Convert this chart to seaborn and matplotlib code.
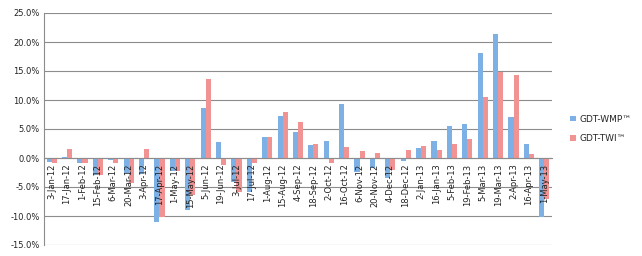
import matplotlib
matplotlib.use("Agg")
import matplotlib.pyplot as plt
import seaborn as sns
import pandas as pd
from matplotlib.ticker import FuncFormatter

dates = ["3-Jan-12", "17-Jan-12", "1-Feb-12", "15-Feb-12", "6-Mar-12", "20-Mar-12",
         "3-Apr-12", "17-Apr-12", "1-May-12", "15-May-12", "5-Jun-12", "19-Jun-12",
         "3-Jul-12", "17-Jul-12", "1-Aug-12", "15-Aug-12", "4-Sep-12", "18-Sep-12",
         "2-Oct-12", "16-Oct-12", "6-Nov-12", "20-Nov-12", "4-Dec-12", "18-Dec-12",
         "2-Jan-13", "16-Jan-13", "5-Feb-13", "19-Feb-13", "5-Mar-13", "19-Mar-13",
         "2-Apr-13", "16-Apr-13", "1-May-13"]
wmp = [-0.7, 0.1, -0.9, -2.9, -0.3, -2.5, -2.8, -11.0, -2.2, -8.9, 8.7, 2.8,
       -4.1, -5.8, 3.6, 7.2, 4.4, 2.2, 2.9, 9.3, -2.4, -1.8, -3.5, -0.5,
       1.7, 2.9, 5.5, 5.9, 18.1, 21.3, 7.1, 2.5, -10.1]
twi = [-0.8, 1.6, -0.9, -3.0, -0.9, -4.3, 1.6, -10.1, -2.3, -6.4, 13.7, -1.2,
       -5.8, -0.9, 3.6, 7.9, 6.2, 2.5, -0.9, 1.9, 1.2, 0.8, -2.1, 1.3,
       2.1, 1.3, 2.5, 3.2, 10.5, 14.9, 14.3, 0.7, -7.1]
series = ["GDT-WMP\u2122", "GDT-TWI\u2122"]
colors = ["#7db1e5", "#f29393"]

df = pd.DataFrame({
    "date": dates * 2,
    "value": wmp + twi,
    "series": [series[0]] * len(dates) + [series[1]] * len(dates),
})

sns.set_style("white")
plt.rcParams["font.family"] = ["DejaVu Sans"]

fig = plt.figure(figsize=(6.42, 2.56), dpi=100)
ax = fig.add_axes([44 / 642, 1 - 245 / 256, (552 - 44) / 642, (245 - 13) / 256])

sns.barplot(data=df, x="date", y="value", hue="series", order=dates,
            hue_order=series, palette=colors, width=0.66, ax=ax,
            saturation=1, edgecolor="none")

ax.set_ylim(-15, 25)
ax.set_yticks(range(-15, 26, 5))
ax.yaxis.set_major_formatter(FuncFormatter(lambda v, p: f"{v:.1f}%"))
ax.grid(axis="y", color="#8c8c8c", linewidth=0.8)
ax.set_axisbelow(True)
ax.xaxis.set_zorder(5)
ax.set_xlim(-0.5, len(dates) - 0.5)
ax.set_xlabel("")
ax.set_ylabel("")

for s in ["top", "right"]:
    ax.spines[s].set_visible(False)
ax.spines["left"].set_color("#8c8c8c")
ax.spines["left"].set_linewidth(0.8)
ax.spines["bottom"].set_position(("data", 0))
ax.spines["bottom"].set_color("#8c8c8c")
ax.spines["bottom"].set_linewidth(0.8)

ax.tick_params(axis="y", labelsize=6, length=0, pad=3, colors="#222222")
ax.tick_params(axis="x", labelsize=6, length=2, pad=2, colors="#8c8c8c",
               labelcolor="#222222")
for lab in ax.get_xticklabels():
    lab.set_rotation(90)
    lab.set_va("top")
    lab.set_ha("center")

ax.legend(loc="center left", bbox_to_anchor=(1.02, 0.50), frameon=False,
          fontsize=6.5, handlelength=0.6, handleheight=0.6, handletextpad=0.4,
          labelspacing=1.2)

fig.savefig("out.png", dpi=100)
